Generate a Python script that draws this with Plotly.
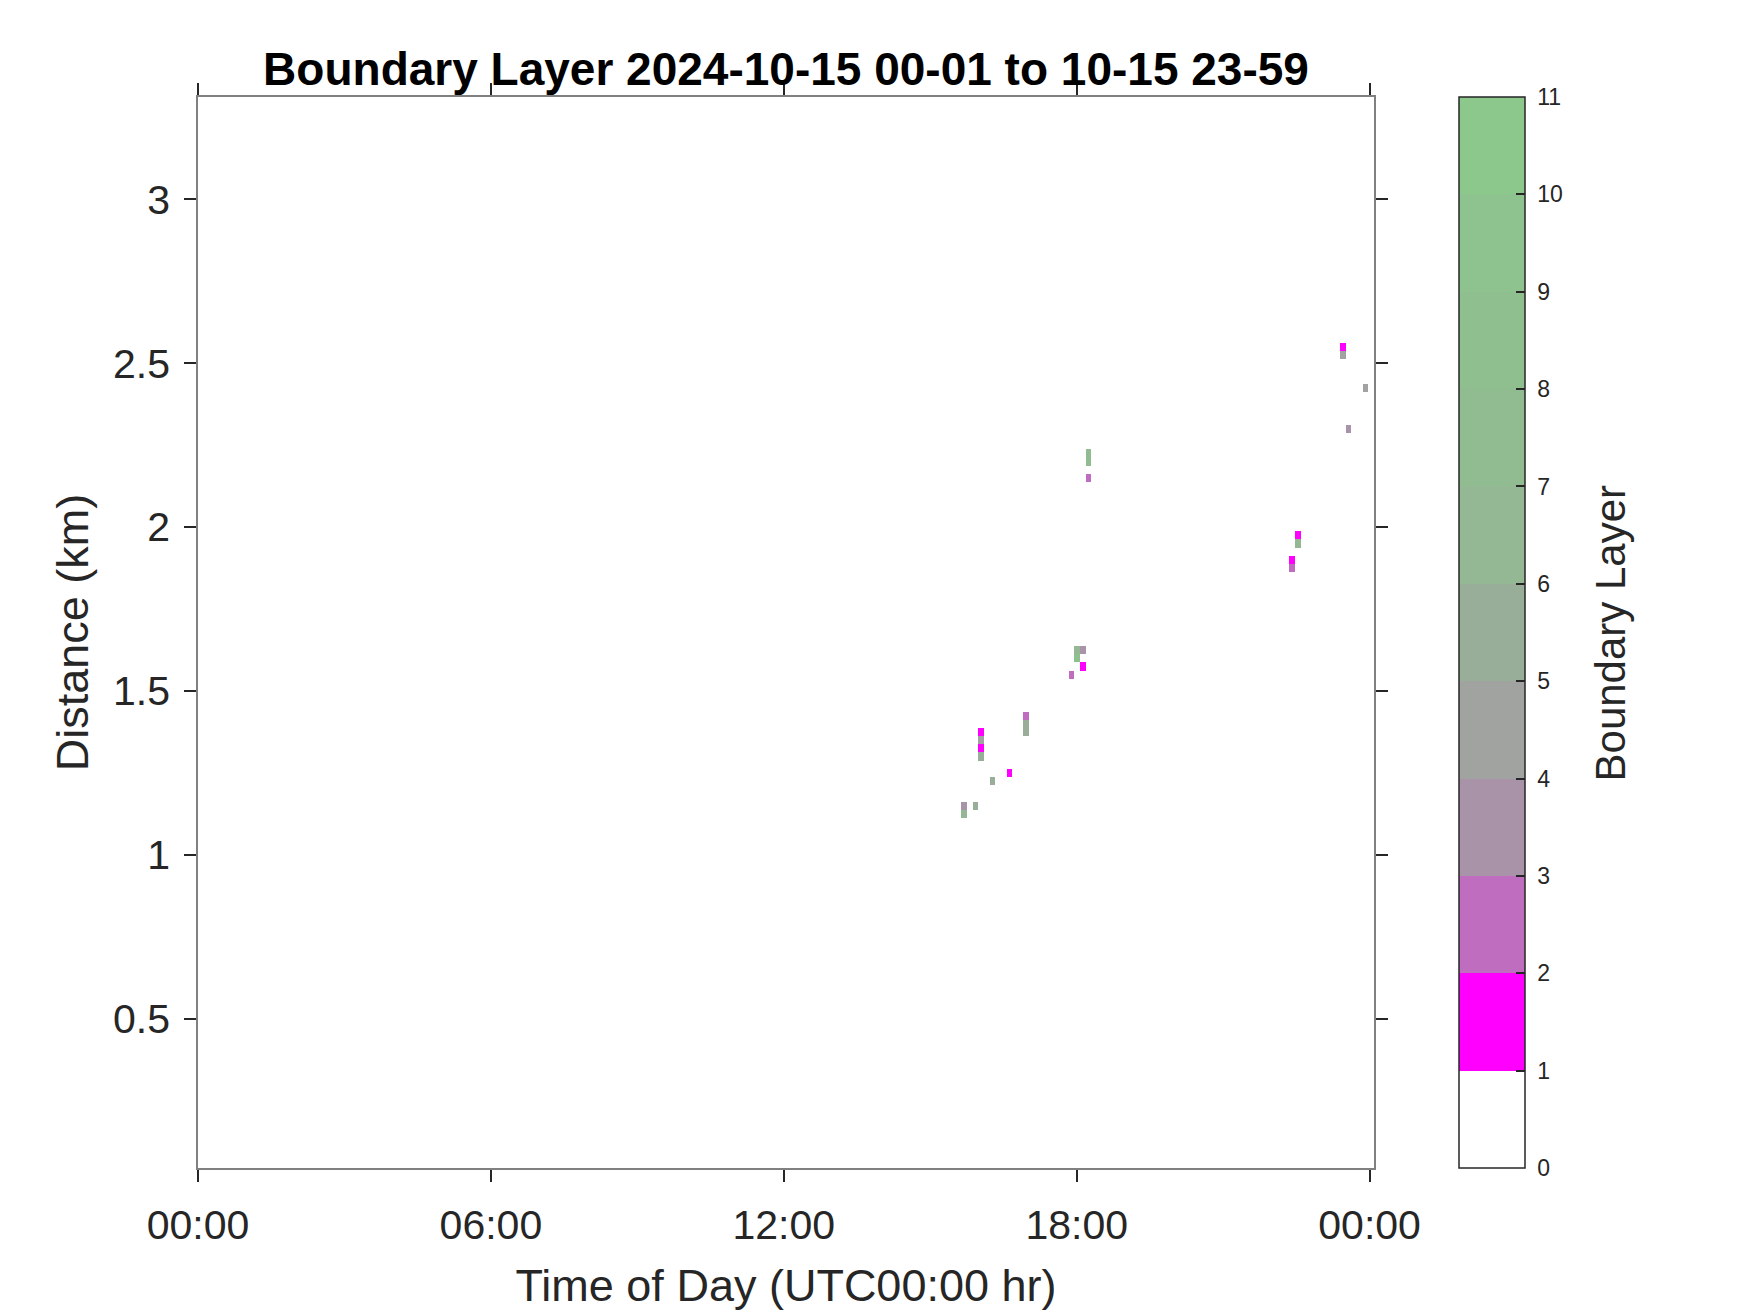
import plotly.graph_objects as go

# ---------------- data ----------------
# time of each retrieved cell (hours, UTC), height (km) and boundary-layer value
cell_time_hr = [15.69, 15.69, 15.92,
                16.04, 16.04, 16.04, 16.04,
                16.27, 16.62,
                16.96, 16.96, 16.96,
                17.89, 18.01, 18.01, 18.12, 18.12,
                18.24, 18.24, 18.24,
                22.41, 22.41, 22.52, 22.52,
                23.45, 23.45, 23.57, 23.91]
cell_height_km = [1.150, 1.125, 1.150,
                  1.375, 1.350, 1.325, 1.300,
                  1.225, 1.250,
                  1.425, 1.400, 1.375,
                  1.550, 1.625, 1.600, 1.625, 1.575,
                  2.225, 2.200, 2.150,
                  1.900, 1.875, 1.975, 1.950,
                  2.550, 2.525, 2.300, 2.425]
cell_value = [3.5, 6.5, 5.5,
              1.5, 4.5, 1.5, 5.5,
              5.5, 1.5,
              2.5, 5.5, 5.5,
              2.5, 6.5, 8.5, 3.5, 1.5,
              7.5, 7.5, 2.5,
              1.5, 2.5, 1.5, 6.5,
              1.5, 4.5, 3.5, 4.5]

time_step_hr = 24.09 / 208       # profile spacing
height_step_km = 0.025           # range-gate spacing
n_time = 208
n_height = 133

tick_hours = [0, 6, 12, 18, 24]
tick_text = ["00:00", "06:00", "12:00", "18:00", "00:00"]
y_ticks = [0.5, 1, 1.5, 2, 2.5, 3]
y_tick_text = ["0.5", "1", "1.5", "2", "2.5", "3"]
cbar_ticks = list(range(0, 12))
cbar_tick_text = ["\u00a0" + str(v) for v in cbar_ticks]

level_colors = ["#FFFFFF", "#FF00FF", "#BF6EBF", "#A993A9", "#A0A3A0", "#98AE98",
                "#94B794", "#91BC91", "#8FBF8F", "#8EC28E", "#8CC78C"]

# ---------------- build grid ----------------
z = [[None] * n_time for _ in range(n_height)]
for t, h, v in zip(cell_time_hr, cell_height_km, cell_value):
    i = int(t / time_step_hr)
    j = int(round(h / height_step_km))
    z[j][i] = v

colorscale = []
n = len(level_colors)
for k, c in enumerate(level_colors):
    colorscale.append([k / n, c])
    colorscale.append([(k + 1) / n, c])

FONT = "Liberation Sans, Arial, Helvetica, sans-serif"
TXT = "#262626"

fig = go.Figure(go.Heatmap(
    z=z,
    x0=time_step_hr / 2, dx=time_step_hr,
    y0=0.0, dy=height_step_km,
    zmin=0, zmax=11,
    colorscale=colorscale,
    hoverongaps=False,
    colorbar=dict(
        x=1.0723, xanchor="left", xpad=0,
        y=0.5, yanchor="middle", len=1, lenmode="fraction", ypad=0,
        thickness=66, outlinecolor=TXT, outlinewidth=1.5,
        tickvals=cbar_ticks, ticktext=cbar_tick_text,
        ticks="inside", ticklen=9, tickwidth=1.5, tickcolor=TXT,
        tickfont=dict(family=FONT, size=23, color=TXT),
    ),
))

fig.update_layout(
    width=1750, height=1313,
    margin=dict(l=190, r=384, t=89, b=153),
    paper_bgcolor="white", plot_bgcolor="white",
    title=dict(text="<b>Boundary Layer 2024-10-15 00-01 to 10-15 23-59</b>",
               x=0.5, xanchor="center", xref="paper",
               y=1 - 61 / 1313, yanchor="middle", yref="container",
               font=dict(family=FONT, size=46, color="black")),
    font=dict(family=FONT, color=TXT),
    annotations=[dict(
        text="Boundary Layer", textangle=-90,
        x=1.2015, y=0.5, xref="paper", yref="paper",
        xanchor="center", yanchor="middle", showarrow=False,
        font=dict(family=FONT, size=42, color=TXT),
    )],
)

fig.update_xaxes(
    range=[0, 24.09], tickvals=tick_hours, ticktext=tick_text,
    showgrid=False, zeroline=False,
    showline=True, linecolor="#808080", linewidth=1.5, mirror="ticks",
    ticks="outside", ticklen=12, tickwidth=2, tickcolor=TXT,
    tickfont=dict(family=FONT, size=41, color=TXT),
    ticklabelstandoff=8,
    title=dict(text="Time of Day (UTC00:00 hr)", font=dict(family=FONT, size=45, color=TXT),
               standoff=23),
)
fig.update_yaxes(
    range=[0.045, 3.312], tickvals=y_ticks, ticktext=y_tick_text,
    showgrid=False, zeroline=False,
    showline=True, linecolor="#808080", linewidth=1.5, mirror="ticks",
    ticks="outside", ticklen=12, tickwidth=2, tickcolor=TXT,
    tickfont=dict(family=FONT, size=41, color=TXT),
    ticklabelstandoff=6,
    title=dict(text="Distance (km)", font=dict(family=FONT, size=45, color=TXT),
               standoff=10),
)

fig.write_html("out.html")
